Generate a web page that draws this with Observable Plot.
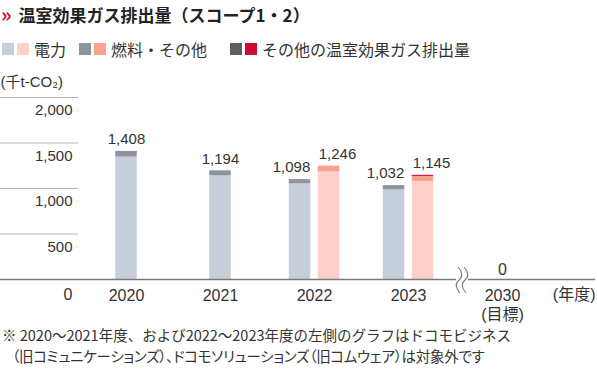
<!DOCTYPE html>
<html>
<head>
<meta charset="utf-8">
<script src="https://cdn.jsdelivr.net/npm/d3@7"></script>
<script src="https://cdn.jsdelivr.net/npm/@observablehq/plot@0.6"></script>
<style>
  html, body { margin: 0; padding: 0; background: #fff; }
  body { width: 597px; height: 374px; overflow: hidden; position: relative;
         font-family: "Liberation Sans", "Noto Sans CJK JP", sans-serif; color: #333; }
  #title { position: absolute; left: 0; top: 0px; height: 27px; line-height: 27px; white-space: nowrap;
           font-family: "Noto Sans CJK JP", sans-serif; font-weight: bold; font-size: 17px; color: #222; }
  #title .mark { color: #c8102e; font-size: 20px; margin-left: 1px; margin-right: 7px; }
  #legend { position: absolute; left: 0; top: 39px; height: 20px; width: 597px; }
  .item { position: absolute; top: 0; height: 20px; display: flex; align-items: center; white-space: nowrap;
          font-family: "Noto Sans CJK JP", sans-serif; font-size: 16px; color: #333; }
  .sw { width: 12px; height: 12px; margin-right: 3px; }
  .item .lab { margin-left: 2px; }
  #chart { position: absolute; left: 0; top: 62px; }
  #note { position: absolute; left: 0; top: 324px; width: 597px; font-family: "Noto Sans CJK JP", sans-serif;
          font-size: 14.5px; line-height: 21px; color: #333; white-space: nowrap; }
  #note div:nth-child(1) { padding-left: 2px; }
  #note div:nth-child(2) { padding-left: 12px; font-feature-settings: "palt"; letter-spacing: -0.3px; }
</style>
</head>
<body>
<div id="title"><span class="mark">»</span><span id="titleText"></span></div>
<div id="legend"></div>
<div id="chart"></div>
<div id="note"></div>
<script>
// ---------- data ----------
const titleText = "温室効果ガス排出量（スコープ1・2）";
const unitLabel = "(千t-CO₂)";
const yearAxisLabel = "(年度)";
const targetNote = "(目標)";
const years = ["2020", "2021", "2022", "2023", "2030"];

// left-hand (previous scope) bars
const prevYears = ["2020", "2021", "2022", "2023"];
const prevElectricity = [1345, 1139, 1051, 985];
const prevFuel = [63, 55, 47, 47];
const prevOther = [0, 0, 0, 0];
const prevTotal = [1408, 1194, 1098, 1032];

// right-hand (current scope) bars
const currYears = ["2022", "2023"];
const currElectricity = [1181, 1078];
const currFuel = [65, 55];
const currOther = [0, 12];
const currTotal = [1246, 1145];

// 2030 target
const targetYear = "2030";
const targetValue = 0;

const yGridTicks = [500, 1000, 1500, 2000];
const yZeroTick = [0];

const legendLabels = ["電力", "燃料・その他", "その他の温室効果ガス排出量"];
const seriesKeys = ["prevElec", "prevFuel", "prevOther", "currElec", "currFuel", "currOther"];
const seriesColors = ["#c6ced9", "#8c959f", "#5d5e63", "#fdd1ca", "#f9a290", "#cc0a33"];

const noteLines = [
  "※ 2020～2021年度、および2022～2023年度の左側のグラフはドコモビジネス",
  "（旧コミュニケーションズ）、ドコモソリューションズ（旧コムウェア）は対象外です"
];

// ---------- html text ----------
document.getElementById("titleText").textContent = titleText;
const legend = document.getElementById("legend");
const legendLeft = [2, 79, 230];
legendLabels.forEach((lab, i) => {
  const it = document.createElement("div");
  it.className = "item";
  it.style.left = legendLeft[i] + "px";
  [seriesColors[i], seriesColors[i + 3]].forEach(c => {
    const s = document.createElement("span");
    s.className = "sw"; s.style.background = c; it.appendChild(s);
  });
  const t = document.createElement("span");
  t.className = "lab"; t.textContent = lab; it.appendChild(t);
  legend.appendChild(it);
});
const note = document.getElementById("note");
noteLines.forEach(l => { const d = document.createElement("div"); d.textContent = l; note.appendChild(d); });

// ---------- tables ----------
const prevRows = [];
prevYears.forEach((y, i) => {
  prevRows.push({year: y, key: "prevElec", value: prevElectricity[i]});
  prevRows.push({year: y, key: "prevFuel", value: prevFuel[i]});
  prevRows.push({year: y, key: "prevOther", value: prevOther[i]});
});
const currRows = [];
currYears.forEach((y, i) => {
  currRows.push({year: y, key: "currElec", value: currElectricity[i]});
  currRows.push({year: y, key: "currFuel", value: currFuel[i]});
  currRows.push({year: y, key: "currOther", value: currOther[i]});
});
const prevTotals = prevYears.map((y, i) => ({year: y, total: prevTotal[i]}));
const currTotals = currYears.map((y, i) => ({year: y, total: currTotal[i]}));
const paired = y => currYears.includes(y);
const fmt = d3.format(",");

const W = 597, H = 263;
const bw = 22, gap = 7;
const step = 94.5;
const mRight = W - 78 - step * years.length;
const singleInset = (step - bw) / 2;
const outerInset = step / 2 - gap / 2 - bw;
const innerInset = step / 2 + gap / 2;

// break symbol on baseline (custom render mark using Plot's scales)
function breakMark(index, scales, values, dimensions) {
  const x = scales.x;
  const bx = x(targetYear) + 7;
  const y0 = scales.y(0);
  const g = d3.create("svg:g");
  g.append("rect").attr("x", bx - 6).attr("y", y0 - 3).attr("width", 12).attr("height", 6).attr("fill", "#fff");
  [-3, 3].forEach(off => {
    const cx = bx + off;
    g.append("path")
      .attr("d", `M${cx - 1},${y0 - 12} Q${cx + 6},${y0 - 4} ${cx},${y0 + 1} Q${cx - 6},${y0 + 6} ${cx + 1},${y0 + 14}`)
      .attr("fill", "none").attr("stroke", "#777").attr("stroke-width", 1.1);
  });
  return g.node();
}

const plot = Plot.plot({
  width: W,
  height: H,
  marginLeft: 78,
  marginRight: mRight,
  marginTop: 35,
  marginBottom: 46,
  style: {fontFamily: "'Liberation Sans', 'Noto Sans CJK JP', sans-serif", fontSize: "15px", color: "#333", background: "transparent"},
  x: {type: "band", domain: years, padding: 0},
  y: {domain: [0, 2000]},
  color: {domain: seriesKeys, range: seriesColors},
  marks: [
    // short grid lines to the left of the plot
    Plot.axisY({ticks: yGridTicks, tickSize: 78, tickFormat: () => "", stroke: "#b5b5b5", strokeWidth: 1, label: null}),
    Plot.axisY({ticks: yGridTicks, tickSize: 0, tickPadding: 6, tickFormat: fmt, dy: 13, fontSize: 15, label: null, letterSpacing: "0.5px"}),
    Plot.axisY({ticks: yZeroTick, tickSize: 0, tickPadding: 6, tickFormat: fmt, dy: 15, fontSize: 16, label: null}),
    Plot.text([unitLabel], {frameAnchor: "top-left", lineAnchor: "middle", textAnchor: "start", dx: -78, dy: -15.5, fontSize: 15}),
    // bars
    Plot.barY(prevRows.filter(d => !paired(d.year) && d.value > 0), {x: "year", y: "value", fill: "key", insetLeft: singleInset, insetRight: singleInset}),
    Plot.barY(prevRows.filter(d => paired(d.year) && d.value > 0), {x: "year", y: "value", fill: "key", insetLeft: outerInset, insetRight: innerInset}),
    Plot.barY(currRows.filter(d => d.value > 0), {x: "year", y: "value", fill: "key", insetLeft: innerInset, insetRight: outerInset}),
    // baseline
    Plot.ruleY([0], {stroke: "#7a7a7a", strokeWidth: 1.4, insetLeft: -78, insetRight: -mRight + 2}),
    breakMark,
    // value labels
    Plot.text(prevTotals.filter(d => !paired(d.year)), {x: "year", y: "total", text: d => fmt(d.total), dy: -12, fontSize: 15, letterSpacing: "0.5px"}),
    Plot.text(prevTotals.filter(d => paired(d.year)), {x: "year", y: "total", text: d => fmt(d.total), dy: -12, dx: -23, fontSize: 15, letterSpacing: "0.5px"}),
    Plot.text(currTotals, {x: "year", y: "total", text: d => fmt(d.total), dy: -12, dx: 23, fontSize: 15, letterSpacing: "0.5px"}),
    Plot.text([{year: targetYear, total: targetValue}], {x: "year", y: "total", text: d => fmt(d.total), dy: -9.5, fontSize: 16}),
    // x axis
    Plot.axisX({tickSize: 0, tickPadding: 8.5, fontSize: 16, label: null, lineHeight: 1.16,
      tickFormat: d => d === targetYear ? d + "\n" + targetNote : d}),
    Plot.text([yearAxisLabel], {frameAnchor: "bottom-right", lineAnchor: "middle", textAnchor: "end", dx: mRight - 2, dy: 15, fontSize: 16})
  ]
});
document.getElementById("chart").appendChild(plot);
</script>
</body>
</html>
